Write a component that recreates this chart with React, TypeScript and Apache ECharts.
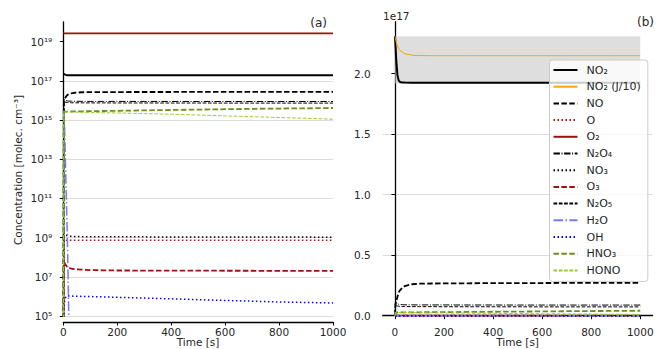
import React, { useEffect, useRef } from "react";
import * as echarts from "echarts";

// ---- data (molec. cm^-3) ----
const time = [0, 2, 5, 10, 15, 20, 30, 40, 70, 100, 150, 200, 300, 400, 500, 600, 700, 800, 900, 1000];

const no2 = [2.31e17, 2.24e17, 2.12e17, 1.99e17, 1.945e17, 1.932e17, 1.928e17, 1.927e17, 1.926e17, 1.926e17, 1.926e17, 1.926e17, 1.926e17, 1.926e17, 1.926e17, 1.926e17, 1.926e17, 1.926e17, 1.926e17, 1.926e17];
const no2J10 = [2.31e17, 2.29e17, 2.26e17, 2.23e17, 2.21e17, 2.195e17, 2.178e17, 2.165e17, 2.153e17, 2.15e17, 2.149e17, 2.149e17, 2.149e17, 2.149e17, 2.149e17, 2.149e17, 2.149e17, 2.149e17, 2.149e17, 2.149e17];
const no = [1, 0.9e16, 1.2e16, 1.55e16, 1.9e16, 2.1e16, 2.3e16, 2.45e16, 2.6e16, 2.65e16, 2.66e16, 2.67e16, 2.68e16, 2.69e16, 2.7e16, 2.7e16, 2.71e16, 2.71e16, 2.72e16, 2.72e16];
const o = [1, 7.5e8, 7.4e8, 7.3e8, 7.3e8, 7.3e8, 7.3e8, 7.3e8, 7.3e8, 7.3e8, 7.3e8, 7.3e8, 7.3e8, 7.3e8, 7.3e8, 7.3e8, 7.3e8, 7.3e8, 7.3e8, 7.3e8];
const o2 = [2.6e19, 2.6e19, 2.6e19, 2.6e19, 2.6e19, 2.6e19, 2.6e19, 2.6e19, 2.6e19, 2.6e19, 2.6e19, 2.6e19, 2.6e19, 2.6e19, 2.6e19, 2.6e19, 2.6e19, 2.6e19, 2.6e19, 2.6e19];
const n2o4 = [1, 1.2e16, 1.1e16, 9.8e15, 9.4e15, 9.2e15, 9.1e15, 9.0e15, 8.95e15, 8.9e15, 8.9e15, 8.9e15, 8.85e15, 8.85e15, 8.8e15, 8.8e15, 8.8e15, 8.8e15, 8.8e15, 8.8e15];
const no3 = [1, 1.7e9, 1.6e9, 1.35e9, 1.25e9, 1.2e9, 1.16e9, 1.14e9, 1.12e9, 1.11e9, 1.1e9, 1.1e9, 1.09e9, 1.08e9, 1.08e9, 1.07e9, 1.07e9, 1.06e9, 1.06e9, 1.05e9];
const o3 = [1, 8e7, 5e7, 3.8e7, 3.2e7, 2.9e7, 2.6e7, 2.45e7, 2.3e7, 2.2e7, 2.15e7, 2.1e7, 2.08e7, 2.06e7, 2.05e7, 2.04e7, 2.03e7, 2.02e7, 2.01e7, 2.0e7];
const n2o5 = [1, 7e15, 8.5e15, 8e15, 7.8e15, 7.7e15, 7.6e15, 7.55e15, 7.5e15, 7.45e15, 7.45e15, 7.4e15, 7.4e15, 7.35e15, 7.35e15, 7.3e15, 7.3e15, 7.3e15, 7.3e15, 7.3e15];
const h2o = [3e15, 1.5e15, 4e14, 5e11, 1e9, 2e5, 1e2, 1, 1, 1, 1, 1, 1, 1, 1, 1, 1, 1, 1, 1];
const oh = [1, 2e5, 6e5, 1e6, 1.08e6, 1.05e6, 1.04e6, 1.03e6, 1.0e6, 9.8e5, 9.4e5, 9e5, 8.2e5, 7.5e5, 6.8e5, 6.2e5, 5.7e5, 5.2e5, 4.9e5, 4.6e5];
const hno3 = [1, 2.3e15, 2.6e15, 2.65e15, 2.68e15, 2.7e15, 2.72e15, 2.74e15, 2.78e15, 2.82e15, 2.88e15, 2.95e15, 3.1e15, 3.25e15, 3.4e15, 3.55e15, 3.7e15, 3.85e15, 3.95e15, 4.1e15];
const hono = [1, 2.4e15, 2.6e15, 2.6e15, 2.58e15, 2.56e15, 2.55e15, 2.53e15, 2.48e15, 2.43e15, 2.35e15, 2.28e15, 2.12e15, 1.97e15, 1.8e15, 1.62e15, 1.48e15, 1.34e15, 1.22e15, 1.1e15];

const band = { low: 1.92e17, high: 2.31e17, start: 0, end: 1000 };

const xTicks = [0, 200, 400, 600, 800, 1000];
const logTicks = [1e5, 1e7, 1e9, 1e11, 1e13, 1e15, 1e17, 1e19];
const linTicks = [0, 0.5e17, 1.0e17, 1.5e17, 2.0e17];

const FONT = "DejaVu Sans";
const TXT = "#262626";

type Spec = { name: string; values: number[]; color: string; width: number; dash: "solid" | number[]; left: boolean };
const specs: Spec[] = [
  { name: "NO₂", values: no2, color: "#000000", width: 2, dash: "solid", left: true },
  { name: "NO₂ (J/10)", values: no2J10, color: "#ffa500", width: 1, dash: "solid", left: false },
  { name: "NO", values: no, color: "#000000", width: 1.8, dash: [5.5, 2.4], left: true },
  { name: "O", values: o, color: "#a01010", width: 1.5, dash: [1.5, 2.5], left: true },
  { name: "O₂", values: o2, color: "#a01010", width: 1.8, dash: "solid", left: true },
  { name: "N₂O₄", values: n2o4, color: "#000000", width: 1, dash: [6.4, 1.6, 1, 1.6], left: true },
  { name: "NO₃", values: no3, color: "#000000", width: 1.5, dash: [1.5, 2.5], left: true },
  { name: "O₃", values: o3, color: "#a01010", width: 1.8, dash: [5.5, 2.4], left: true },
  { name: "N₂O₅", values: n2o5, color: "#000000", width: 1, dash: [3.7, 1.6], left: true },
  { name: "H₂O", values: h2o, color: "#7878ff", width: 1.5, dash: [9.6, 2.4, 1.5, 2.4], left: true },
  { name: "OH", values: oh, color: "#0000ff", width: 1.5, dash: [1.5, 2.5], left: true },
  { name: "HNO₃", values: hno3, color: "#6b8e23", width: 1.8, dash: [5.5, 2.4], left: true },
  { name: "HONO", values: hono, color: "#9acd32", width: 1, dash: [3.7, 1.6], left: true },
];

const SUP: Record<string, string> = { "0": "⁰", "1": "¹", "2": "²", "3": "³", "4": "⁴", "5": "⁵", "6": "⁶", "7": "⁷", "8": "⁸", "9": "⁹", "-": "⁻" };
const sup = (s: string) => s.split("").map((c) => SUP[c] ?? c).join("");

function buildOption(): any {
  const axisLineStyle = { color: "#000", width: 1.3 };
  const tickStyle = { show: true, length: 3.5, lineStyle: { color: "#000", width: 1 } };
  const labelBase = { fontFamily: FONT, fontSize: 10.5, color: TXT };

  const series: any[] = [];
  specs.forEach((s, i) => {
    const data = time.map((t, k) => [t, s.values[k]]);
    const common = {
      name: s.name,
      type: "line",
      symbol: "none",
      showSymbol: false,
      lineStyle: { color: s.color, width: s.width, type: s.dash },
      itemStyle: { color: s.color },
      emphasis: { disabled: true },
      z: 3 + i * 0.01,
    };
    const right: any = { ...common, xAxisIndex: 1, yAxisIndex: 1, data, clip: false };
    if (i === 0) {
      right.markArea = {
        silent: true,
        itemStyle: { color: "rgba(200,200,200,0.6)" },
        data: [[{ xAxis: band.start, yAxis: band.low }, { xAxis: band.end, yAxis: band.high }]],
      };
    }
    series.push(right);
    if (s.left) series.push({ ...common, xAxisIndex: 0, yAxisIndex: 0, data });
  });

  const xLabel = { ...labelBase, margin: 4, formatter: (v: number) => String(v) };
  const txt = (text: string, x: number, y: number, size: number, align: string, rotation = 0) => ({
    type: "text", x, y, rotation,
    style: { text, font: `${size}px '${FONT}'`, fill: TXT, align, verticalAlign: "middle" },
  });

  return {
    animation: false,
    textStyle: { fontFamily: FONT },
    grid: [
      { left: 63.3, top: 22, width: 269.7, height: 294, containLabel: false, outerBoundsMode: "none" },
      { left: 382.7, top: 21.7, width: 269.8, height: 294, containLabel: false, outerBoundsMode: "none" },
    ],
    xAxis: [
      {
        type: "value", gridIndex: 0, min: 0, max: 1000, interval: 200, offset: 6,
        axisLine: { show: true, lineStyle: axisLineStyle }, axisTick: tickStyle,
        axisLabel: xLabel, splitLine: { show: false },
      },
      {
        type: "value", gridIndex: 1, min: -50, max: 1050, offset: 7,
        axisLine: { show: true, lineStyle: axisLineStyle },
        axisTick: { ...tickStyle, customValues: xTicks },
        axisLabel: { ...xLabel, customValues: xTicks }, splitLine: { show: false },
      },
    ],
    yAxis: [
      {
        type: "log", logBase: 10, gridIndex: 0, min: 1e5, max: 1e20, offset: 6,
        axisLine: { show: true, lineStyle: axisLineStyle },
        axisTick: { ...tickStyle, customValues: logTicks },
        axisLabel: {
          ...labelBase, margin: 5, customValues: logTicks,
          formatter: (v: number) => "10" + sup(String(Math.round(Math.log10(v)))),
        },
        splitLine: { show: true, showMaxLine: false, lineStyle: { color: "#dcdcdc", width: 1 } },
      },
      {
        type: "value", gridIndex: 1, min: 0, max: 2.43e17, interval: 0.5e17, offset: 7,
        axisLine: { show: true, lineStyle: axisLineStyle },
        axisTick: { ...tickStyle, customValues: linTicks },
        axisLabel: {
          ...labelBase, margin: 5, customValues: linTicks,
          formatter: (v: number) => (v / 1e17).toFixed(1),
        },
        splitLine: { show: true, showMaxLine: false, lineStyle: { color: "#dcdcdc", width: 1 } },
      },
    ],
    legend: {
      data: specs.map((s) => s.name),
      orient: "vertical",
      left: 549.5,
      top: 60,
      itemWidth: 24,
      itemHeight: 12,
      itemGap: 4.7,
      padding: [4, 7, 5, 3],
      backgroundColor: "rgba(255,255,255,0.8)",
      borderColor: "#cccccc",
      borderWidth: 1,
      borderRadius: 3,
      selectedMode: false,
      itemStyle: { opacity: 0, borderWidth: 0 },
      textStyle: { fontFamily: FONT, fontSize: 11, color: TXT, lineHeight: 12, padding: [0, 0, 0, 4] },
    },
    graphic: [
      txt("Concentration [molec. cm" + sup("-3") + "]", 18, 170, 10.5, "center", Math.PI / 2),
      txt("Time [s]", 198, 341.5, 10.5, "center"),
      txt("Time [s]", 517.6, 341.5, 10.5, "center"),
      txt("(a)", 327, 23, 12, "right"),
      txt("(b)", 654, 22, 12, "right"),
      txt("1e17", 383, 16, 10.5, "left"),
    ],
    series,
  };
}

export default function App() {
  const ref = useRef<HTMLDivElement>(null);
  useEffect(() => {
    const chart = echarts.init(ref.current!, null, { renderer: "svg" });
    chart.setOption(buildOption());
    return () => chart.dispose();
  }, []);
  return <div ref={ref} style={{ position: "absolute", left: 0, top: 0, width: 656, height: 349, background: "#fff" }} />;
}
